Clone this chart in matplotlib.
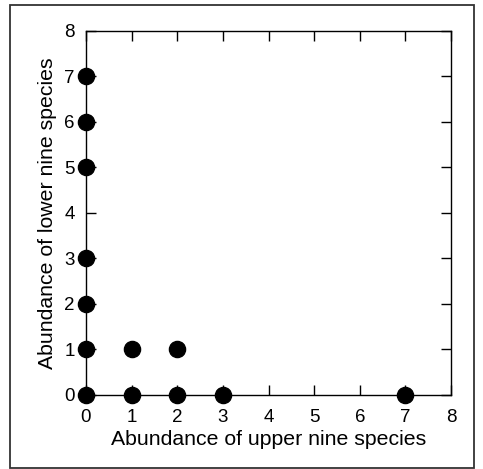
import matplotlib
matplotlib.use("Agg")
import matplotlib.pyplot as plt
from matplotlib.patches import Rectangle

plt.rcParams['font.family'] = ['Liberation Sans', 'DejaVu Sans']

# abundance pairs
upper = [0, 0, 0, 0, 0, 0, 0, 1, 1, 2, 2, 3, 7]
lower = [0, 1, 2, 3, 5, 6, 7, 0, 1, 0, 1, 0, 0]
ticks = list(range(0, 9))

fig = plt.figure(figsize=(4.83, 4.69), dpi=100)
ax = fig.add_axes([0.178, 0.158, 0.756, 0.776])

ax.scatter(upper, lower, s=135, color='black', zorder=3, clip_on=False)

ax.set_xlim(0, 8)
ax.set_ylim(0, 8)
ax.set_xticks(ticks)
ax.set_yticks(ticks)
ax.tick_params(direction='in', length=7, width=1, top=True, right=True,
               labelsize=13.5)
ax.tick_params(axis='x', pad=10)
ax.tick_params(axis='y', pad=8)
for lab in ax.get_yticklabels():
    lab.set_va('center_baseline')
for sp in ax.spines.values():
    sp.set_linewidth(1)

ax.set_xlabel("Abundance of upper nine species", fontsize=15.3, labelpad=3)
ax.set_ylabel("Abundance of lower nine species", fontsize=15.3, labelpad=5)

# outer frame round the whole figure
fig.patches.append(Rectangle((10 / 483, 1 / 469), 464 / 483, 463 / 469,
                             transform=fig.transFigure, fill=False,
                             edgecolor='#333333', linewidth=1.3))

fig.savefig("out.png", dpi=100)
